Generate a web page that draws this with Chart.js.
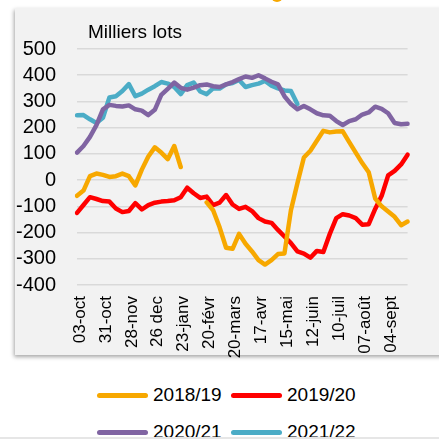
<!DOCTYPE html>
<html>
<head>
<meta charset="utf-8">
<script src="https://cdn.jsdelivr.net/npm/chart.js@4/dist/chart.umd.min.js"></script>
<style>
  html, body { margin: 0; padding: 0; background: #fff; }
  body { width: 439px; height: 439px; position: relative; overflow: hidden; font-family: "Liberation Sans", Arial, sans-serif; }
  #panel { position: absolute; left: 15px; top: 8px; width: 430px; height: 347px; background: #f2f2f2; box-shadow: -1px 2px 4px rgba(0,0,0,0.35); }
  #dot { position: absolute; left: 271px; top: -10px; width: 12px; height: 12px; border-radius: 50%; background: #f7a800; }
  #bottomband { position: absolute; left: 0; top: 437px; width: 439px; height: 2px; background: #e6e6e6; }
  #chart { position: absolute; left: 0; top: 0; }
  #legend { position: absolute; left: 97px; top: 383px; width: 300px; }
  .item { position: absolute; height: 24px; font-size: 19px; color: #000; white-space: nowrap; }
  .item .box { position: absolute; left: 0; top: 10px; width: 51px; height: 5px; border-radius: 3px; }
  .item span { position: absolute; left: 56px; top: 1px; }
</style>
</head>
<body>
<div id="dot"></div>
<div id="panel"></div>
<canvas id="chart" width="439" height="370"></canvas>
<div id="legend"></div>
<div id="bottomband"></div>
<script>
const weeks = [
  "03-oct", "10-oct", "17-oct", "24-oct", "31-oct", "07-nov", "14-nov", "21-nov",
  "28-nov", "05-dec", "12-dec", "19-dec", "26 dec", "02-janv", "09-janv", "16-janv",
  "23-janv", "30-janv", "06-févr", "13-févr", "20-févr", "27-févr", "06-mars", "13-mars",
  "20-mars", "27-mars", "03-avr", "10-avr", "17-avr", "24-avr", "01-mai", "08-mai",
  "15-mai", "22-mai", "29-mai", "05-juin", "12-juin", "19-juin", "26-juin", "03-juil",
  "10-juil", "17-juil", "24-juil", "31-juil", "07-août", "14-août", "21-août", "28-août",
  "04-sept", "11-sept", "18-sept", "25-sept"
];

const s2018 = [
  -60, -40, 15, 25, 20, 12, 15, 25, 15, -20, 40, 90, 125, 105, 80, 130,
  50, null, null, null, -85, -115, -180, -258, -262, -205, -243, -272, -305, -322, -305, -282,
  -280, -115, -12, 86, 112, 150, 188, 182, 185, 186, 145, 105, 65, 30, -70, -100,
  -120, -140, -172, -158
];

const s2019 = [
  -125, -95, -65, -72, -80, -82, -108, -122, -118, -88, -112, -95, -86, -82, -80, -77,
  -65, -29, -50, -68, -63, -95, -86, -57, -93, -110, -102, -118, -145, -158, -163, -190,
  -215, -240, -272, -280, -296, -270, -274, -205, -145, -130, -135, -145, -170, -168, -110, -60,
  18, 35, 60, 97
];

const s2020 = [
  105, 130, 165, 210, 270, 287, 283, 281, 285, 270, 265, 248, 268, 325, 348, 372,
  352, 345, 353, 362, 365, 358, 355, 365, 374, 385, 395, 390, 400, 388, 375, 365,
  320, 290, 270, 283, 270, 255, 247, 245, 225, 210, 225, 232, 250, 258, 280, 272,
  255, 218, 213, 215
];

const s2021 = [
  247, 248, 232, 218, 238, 315, 320, 340, 366, 320, 330, 345, 358, 374, 368, 355,
  328, 362, 372, 338, 328, 350, 349, 365, 370, 382, 355, 362, 368, 378, 360, 350,
  342, 340, 290
];

const seasons = ["2018/19", "2019/20", "2020/21", "2021/22"];
const colors = ["#f7a800", "#ff0000", "#8064a2", "#4bacc6"];
const series = [s2018, s2019, s2020, s2021];

const font = "'Liberation Sans', Arial, sans-serif";

const unitLabel = {
  id: "unitLabel",
  afterDraw(chart) {
    const ctx = chart.ctx;
    ctx.save();
    ctx.font = "19px " + font;
    ctx.fillStyle = "#000";
    ctx.textBaseline = "middle";
    ctx.fillText("Milliers lots", chart.chartArea.left + 11, 33);
    ctx.restore();
  },
};

const chart = new Chart(document.getElementById("chart"), {
  type: "line",
  data: {
    labels: weeks,
    datasets: seasons.map((name, i) => ({
      label: name,
      data: series[i],
      borderColor: colors[i],
      backgroundColor: colors[i],
      borderWidth: 4.5,
      pointRadius: 0,
      tension: 0,
      spanGaps: false,
      borderJoinStyle: "round",
      borderCapStyle: "round",
    })),
  },
  options: {
    responsive: false,
    animation: false,
    layout: { padding: { top: 49, right: 16, left: 0, bottom: 0 } },
    plugins: {
      legend: { display: false },
      tooltip: { enabled: false },
    },
    scales: {
      x: {
        offset: false,
        grid: { display: false, drawTicks: false },
        border: { display: false },
        afterFit: s => { s.height = 85; },
        ticks: {
          autoSkip: false,
          minRotation: 90,
          maxRotation: 90,
          padding: 11,
          labelOffset: 3,
          color: "#000",
          font: { family: font, size: 17 },
          callback: function(val, index) {
            return index % 4 === 0 ? this.getLabelForValue(val) : "";
          },
        },
      },
      y: {
        min: -400,
        max: 500,
        grid: { color: "#d9d9d9", lineWidth: 1.5, drawTicks: false },
        border: { display: false },
        afterFit: s => { s.width = 77; },
        ticks: {
          stepSize: 100,
          autoSkip: false,
          padding: 21,
          color: "#000",
          font: { family: font, size: 20 },
        },
      },
    },
  },
  plugins: [unitLabel],
});

// legend in two rows, built from the datasets
const legend = document.getElementById("legend");
chart.data.datasets.forEach((ds, i) => {
  const item = document.createElement("div");
  item.className = "item";
  item.style.left = (i % 2 === 0 ? 0 : 134) + "px";
  item.style.top = (i < 2 ? 0 : 37) + "px";
  item.innerHTML = '<div class="box" style="background:' + ds.borderColor + '"></div><span>' + ds.label + "</span>";
  legend.appendChild(item);
});
</script>
</body>
</html>
